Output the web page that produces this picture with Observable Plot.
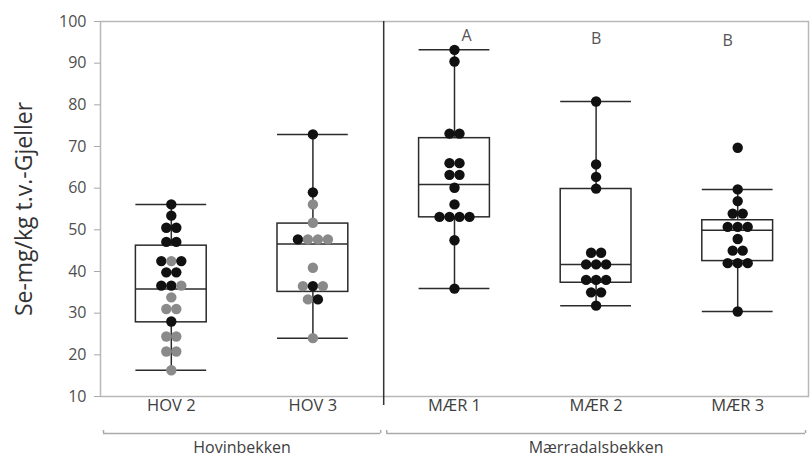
<!DOCTYPE html>
<html>
<head>
<meta charset="utf-8">
<script src="https://cdn.jsdelivr.net/npm/d3@7"></script>
<script src="https://cdn.jsdelivr.net/npm/@observablehq/plot@0.6"></script>
<style>
  body { margin: 0; background: #fff; }
  #chart { width: 812px; font-family: "Open Sans", sans-serif; }
  #chart svg { display: block; }
</style>
</head>
<body>
<div id="chart"></div>
<script>
// Sampling sites and the stream each belongs to
const sites = ["HOV 2", "HOV 3", "MÆR 1", "MÆR 2", "MÆR 3"];
const streams = ["Hovinbekken", "Hovinbekken", "Mærradalsbekken", "Mærradalsbekken", "Mærradalsbekken"];

// Se in gills (mg/kg dry weight), one value per fish; equal values share a row
const hov2Values = [56.1, 53.4, 50.5, 50.5, 47.1, 47.1, 42.5, 42.5, 42.5, 39.8, 39.8, 36.6, 36.6, 36.6, 33.8, 31.0, 31.0, 28.0, 24.4, 24.4, 20.8, 20.8, 16.3];
const hov2Shade  = ["d", "d", "d", "d", "d", "d", "d", "l", "d", "d", "d", "d", "d", "l", "l", "l", "l", "d", "l", "l", "l", "l", "l"];
const hov3Values = [72.9, 59.0, 56.1, 51.7, 47.7, 47.7, 47.7, 47.7, 40.9, 36.5, 36.5, 36.5, 33.3, 33.3, 24.0];
const hov3Shade  = ["d", "d", "l", "l", "d", "l", "l", "l", "l", "l", "d", "l", "l", "d", "l"];
const mer1Values = [93.2, 90.4, 73.1, 73.1, 66.0, 66.0, 63.2, 63.2, 60.1, 56.1, 53.1, 53.1, 53.1, 53.1, 47.5, 35.9];
const mer2Values = [80.8, 65.7, 62.7, 59.9, 44.5, 44.5, 41.7, 41.7, 41.7, 38.0, 38.0, 38.0, 35.0, 35.0, 31.8];
const mer3Values = [69.7, 59.7, 56.9, 53.9, 53.9, 50.7, 50.7, 50.7, 47.8, 45.0, 45.0, 42.0, 42.0, 42.0, 30.4];

// Box summaries per site
const whiskerLow  = [16.3, 24.0, 35.9, 31.8, 30.4];
const q1          = [27.8, 35.1, 53.0, 37.3, 42.5];
const median      = [35.8, 46.6, 60.9, 41.7, 49.9];
const q3          = [46.2, 51.5, 72.0, 59.8, 52.3];
const whiskerHigh = [56.1, 72.9, 93.2, 80.8, 59.7];

// Significance letters for the Mærradalsbekken sites
const letterSites = ["MÆR 1", "MÆR 2", "MÆR 3"];
const letters = ["A", "B", "B"];

const yTicks = [10, 20, 30, 40, 50, 60, 70, 80, 90, 100];

// ---- assemble tables ----
const valueLists = [hov2Values, hov3Values, mer1Values, mer2Values, mer3Values];
const shadeLists = [hov2Shade, hov3Shade, null, null, null];
const dotStep = 0.0706; // horizontal spacing of dots within a row, in site units

const points = [];
valueLists.forEach((vals, s) => {
  const rows = d3.group(vals.map((v, i) => ({v, i})), d => d.v);
  for (const [v, members] of rows) {
    members.forEach((m, k) => {
      points.push({
        site: s,
        value: v,
        offset: (k - (members.length - 1) / 2) * dotStep,
        shade: shadeLists[s] ? shadeLists[s][m.i] : "d"
      });
    });
  }
});

const boxes = sites.map((name, i) => ({
  i, name, lo: whiskerLow[i], q1: q1[i], med: median[i], q3: q3[i], hi: whiskerHigh[i]
}));

const ink = "#2b2b2b";
const font = "Open Sans, sans-serif";

const main = Plot.plot({
  width: 812,
  height: 420,
  marginLeft: 100,
  marginRight: 4,
  marginTop: 21,
  marginBottom: 24,
  style: {fontFamily: font, background: "#fff", overflow: "visible"},
  x: {type: "linear", domain: [0, sites.length], axis: null},
  y: {domain: [10, 100], axis: null},
  marks: [
    Plot.frame({stroke: "#b8b8b8", strokeWidth: 1.5}),
    Plot.axisY({ticks: yTicks, tickSize: 6, tickPadding: 8, fontSize: 16, stroke: "#a8a8a8", fill: "#505050", label: null}),
    Plot.text(["Se-mg/kg t.v.-Gjeller"], {frameAnchor: "left", textAnchor: "middle", rotate: -90, dx: -76, fontSize: 23, fill: "#333"}),
    // divider between the two streams
    Plot.ruleX([2], {stroke: "#333", strokeWidth: 1.5, insetBottom: -9}),
    // whiskers and caps
    Plot.ruleX(boxes, {x: d => d.i + 0.5, y1: "lo", y2: "hi", stroke: ink, strokeWidth: 1.5}),
    Plot.ruleY(boxes, {y: "lo", x1: d => d.i + 0.25, x2: d => d.i + 0.75, stroke: ink, strokeWidth: 1.5}),
    Plot.ruleY(boxes, {y: "hi", x1: d => d.i + 0.25, x2: d => d.i + 0.75, stroke: ink, strokeWidth: 1.5}),
    // boxes and medians
    Plot.rect(boxes, {x1: d => d.i + 0.25, x2: d => d.i + 0.75, y1: "q1", y2: "q3", fill: "white", stroke: ink, strokeWidth: 1.5}),
    Plot.ruleY(boxes, {y: "med", x1: d => d.i + 0.25, x2: d => d.i + 0.75, stroke: ink, strokeWidth: 1.5}),
    // individual fish
    Plot.dot(points, {x: d => d.site + 0.5 + d.offset, y: "value", r: 5.2, fill: d => d.shade === "d" ? "#111" : "#8a8a8a", stroke: "none"}),
    // significance letters
    ...letters.map((t, k) => Plot.text([t], {
      x: () => sites.indexOf(letterSites[k]) + 0.5, y: () => 100,
      dx: [12, 0, -10][k], dy: [14, 17, 19][k],
      fontSize: 16, fill: "#555"
    })),
    // site labels
    Plot.text(sites, {x: (d, i) => i + 0.5, frameAnchor: "bottom", dy: 14, fontSize: 16.5, fill: "#404040"})
  ]
});

const groups = d3.groups(sites.map((s, i) => ({s, i, stream: streams[i]})), d => d.stream)
  .map(([stream, ms]) => ({stream, start: d3.min(ms, m => m.i), end: d3.max(ms, m => m.i) + 1}));

const brackets = Plot.plot({
  width: 812,
  height: 46,
  marginLeft: 100,
  marginRight: 4,
  marginTop: 0,
  marginBottom: 0,
  style: {fontFamily: font, background: "#fff", overflow: "visible"},
  x: {type: "linear", domain: [0, sites.length], axis: null},
  y: {type: "linear", domain: [0, 1], range: [13, 10], axis: null},
  marks: [
    Plot.ruleY(groups, {y: () => 0, x1: "start", x2: "end", insetLeft: 3, insetRight: 3, stroke: "#aaa", strokeWidth: 1.5}),
    Plot.ruleX(groups, {x: "start", y1: () => 0, y2: () => 1, dx: 3, stroke: "#aaa", strokeWidth: 1.5}),
    Plot.ruleX(groups, {x: "end", y1: () => 0, y2: () => 1, dx: -3, stroke: "#aaa", strokeWidth: 1.5}),
    Plot.text(groups, {x: d => (d.start + d.end) / 2, y: () => 0, dy: 14, text: "stream", fontSize: 16, fill: "#404040"})
  ]
});

document.getElementById("chart").append(main, brackets);
</script>
</body>
</html>
